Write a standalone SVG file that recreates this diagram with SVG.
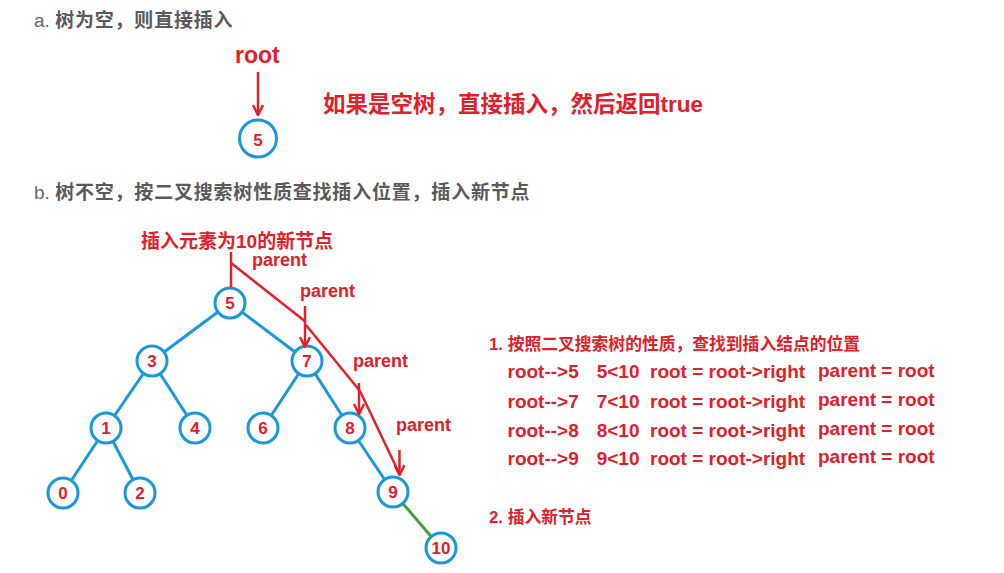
<svg xmlns="http://www.w3.org/2000/svg" width="1004" height="573" viewBox="0 0 1004 573">
<defs>
<style>
.hdr{font-family:"Liberation Sans","Noto Sans CJK SC",sans-serif;font-size:19px;fill:#5a5a5a;letter-spacing:0.8px}
.hdr .lat{font-weight:normal;fill:#6a6a6a;letter-spacing:0}
.hdr .cjk{font-weight:bold}
.red{font-family:"Liberation Sans","Noto Sans CJK SC",sans-serif;font-weight:bold;fill:#e3202a}
.par{font-size:18px}
.row{font-size:19px}
.nd circle{fill:#fff;stroke:#1a98d8;stroke-width:3}
.nd text{font-family:"Liberation Sans",sans-serif;font-weight:bold;font-size:17px;fill:#e3202a;text-anchor:middle}
.edge{stroke:#1a98d8;stroke-width:3;fill:none}
.green{stroke:#3aa53a;stroke-width:3;fill:none}
.rl{stroke:#e3202a;stroke-width:2.5;fill:none}
.ra{stroke:#e3202a;stroke-width:2.5;fill:none;marker-end:url(#vhead)}
</style>
<marker id="vhead" viewBox="0 0 12 12" refX="11" refY="6" markerWidth="12" markerHeight="12" orient="auto" markerUnits="userSpaceOnUse">
<path d="M1,1 L11,6 L1,11" fill="none" stroke="#e3202a" stroke-width="2.5"/>
</marker>
</defs>
<rect width="1004" height="573" fill="#ffffff"/>

<!-- headers -->
<text class="hdr" x="34" y="27"><tspan class="lat">a. </tspan><tspan class="cjk">树为空，则直接插入</tspan></text>
<text class="hdr" x="34" y="199"><tspan class="lat">b. </tspan><tspan class="cjk">树不空，按二叉搜索树性质查找插入位置，插入新节点</tspan></text>

<!-- part a labels -->
<text class="red" x="235" y="63" font-size="23">root</text>
<text class="red" x="323" y="112" font-size="22.5">如果是空树，直接插入，然后返回true</text>

<!-- part b labels -->
<text class="red" x="141" y="247.5" font-size="19">插入元素为10的新节点</text>
<text class="red par" x="252" y="266">parent</text>
<text class="red par" x="300" y="296.5">parent</text>
<text class="red par" x="353" y="366.5">parent</text>
<text class="red par" x="396" y="431">parent</text>

<!-- right text block -->
<text class="red" x="489" y="349.5" font-size="16.8">1. 按照二叉搜索树的性质，查找到插入结点的位置</text>
<g class="red row">
<text x="507.5" y="378.3">root--&gt;5</text><text x="596.7" y="378.3">5&lt;10</text><text x="650" y="378.3">root = root-&gt;right</text><text x="818" y="376.6">parent = root</text>
<text x="507.5" y="407.6">root--&gt;7</text><text x="596.7" y="407.6">7&lt;10</text><text x="650" y="407.6">root = root-&gt;right</text><text x="818" y="405.9">parent = root</text>
<text x="507.5" y="436.6">root--&gt;8</text><text x="596.7" y="436.6">8&lt;10</text><text x="650" y="436.6">root = root-&gt;right</text><text x="818" y="434.9">parent = root</text>
<text x="507.5" y="465">root--&gt;9</text><text x="596.7" y="465">9&lt;10</text><text x="650" y="465">root = root-&gt;right</text><text x="818" y="463.3">parent = root</text>
</g>
<text class="red" x="489" y="523" font-size="16.8">2. 插入新节点</text>

<!-- connectors -->
<g id="connectors">
<line class="edge" x1="230" y1="303" x2="152" y2="361"/>
<line class="edge" x1="230" y1="303" x2="307" y2="361"/>
<line class="edge" x1="152" y1="361" x2="106" y2="428"/>
<line class="edge" x1="152" y1="361" x2="195" y2="428"/>
<line class="edge" x1="307" y1="361" x2="263" y2="428"/>
<line class="edge" x1="307" y1="361" x2="350" y2="428"/>
<line class="edge" x1="106" y1="428" x2="63" y2="493"/>
<line class="edge" x1="106" y1="428" x2="140" y2="493"/>
<line class="edge" x1="350" y1="428" x2="393" y2="492"/>
<line class="green" x1="393" y1="492" x2="441" y2="548"/>
</g>

<!-- nodes -->
<g id="node-a5" class="nd"><circle cx="258" cy="138.5" r="18.5"/><text x="258" y="146" font-size="20">5</text></g>
<g id="node-5" class="nd"><circle cx="230" cy="303" r="15"/><text x="230" y="309">5</text></g>
<g id="node-3" class="nd"><circle cx="152" cy="361" r="15"/><text x="152" y="367">3</text></g>
<g id="node-7" class="nd"><circle cx="307" cy="361" r="15"/><text x="307" y="367">7</text></g>
<g id="node-1" class="nd"><circle cx="106" cy="428" r="15"/><text x="106" y="434">1</text></g>
<g id="node-4" class="nd"><circle cx="195" cy="428" r="15"/><text x="195" y="434">4</text></g>
<g id="node-6" class="nd"><circle cx="263" cy="428" r="15"/><text x="263" y="434">6</text></g>
<g id="node-8" class="nd"><circle cx="350" cy="428" r="15"/><text x="350" y="434">8</text></g>
<g id="node-0" class="nd"><circle cx="63" cy="493" r="15"/><text x="63" y="499">0</text></g>
<g id="node-2" class="nd"><circle cx="140" cy="493" r="15"/><text x="140" y="499">2</text></g>
<g id="node-9" class="nd"><circle cx="393" cy="492" r="15"/><text x="393" y="498">9</text></g>
<g id="node-10" class="nd"><circle cx="441" cy="548" r="15"/><text x="441" y="554">10</text></g>

<!-- red pointer arrows -->
<g id="pointers">
<line class="ra" x1="258" y1="72" x2="258" y2="115"/>
<line class="rl" x1="231" y1="252" x2="231" y2="287"/>
<line class="rl" x1="231" y1="263" x2="306" y2="322"/>
<line class="ra" x1="305" y1="306" x2="305" y2="347"/>
<line class="rl" x1="306" y1="325" x2="360" y2="391"/>
<line class="ra" x1="359" y1="383" x2="359" y2="414"/>
<line class="rl" x1="360" y1="391" x2="399.5" y2="474"/>
<line class="ra" x1="399.5" y1="450" x2="399.5" y2="475"/>
</g>
</svg>
